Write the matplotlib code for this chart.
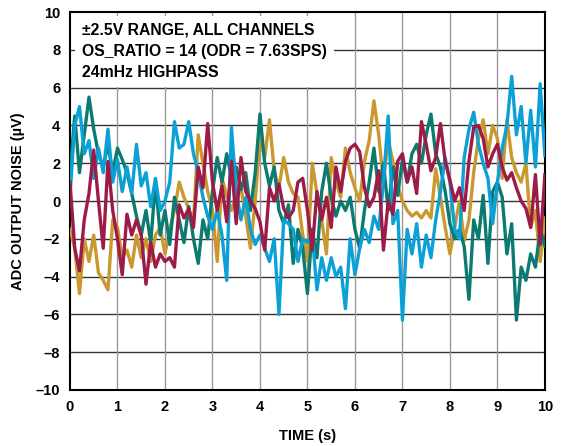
import numpy as np
import matplotlib
matplotlib.use("Agg")
import matplotlib.pyplot as plt

plt.rcParams['font.family'] = ['Liberation Sans', 'DejaVu Sans']

# sample times, 0.1 s steps
time_s = np.linspace(0, 10, 101)

# ADC output noise per channel (uV)
gold = [-1.5, -2.5, -4.9, -2.0, -3.2, -1.8, -3.8, -4.2, -4.7, -1.0,
        -1.4, -3.0, -2.6, -3.5, -1.8, -3.0, -2.0, -3.2, -1.8, -1.4,
        -2.8, -1.5, -0.5, 1.0, 0.2, -0.4, -1.1, 3.5, 2.0, 0.5,
        -0.5, -3.2, 1.2, 0.3, -0.5, 0.3, 0.7, -0.8, -2.5, 0.0,
        3.3, 2.3, 4.3, 1.6, 0.7, 2.3, 1.0, 0.4, 0.2, -1.8,
        -3.2, 2.0, 0.4, -1.0, -2.8, 2.3, 1.0, 0.2, 2.8, 1.5,
        0.7, 0.0, 2.1, 3.2, 5.3, 3.5, 1.0, 3.2, 2.1, 0.8,
        0.0, -0.5, -0.8, -0.6, -0.9, -0.5, -0.9, 1.7, 0.2, -1.4,
        -2.8, -1.4, 0.0, -2.1, -1.0, 1.5, 3.3, 4.3, 2.5, 4.0,
        3.3, 1.2, 4.3, 2.3, 1.5, 1.0, 2.0, -1.4, -0.5, -3.2,
        -0.9]
teal = [1.5, 4.5, 1.5, 3.5, 5.5, 3.8, 2.5, 1.8, 3.0, 1.5,
        2.8, 2.2, 1.5, 0.4, -0.8, -1.8, -0.5, -2.2, 1.0, -1.8,
        -0.5, -2.3, 0.2, -1.0, -2.2, -0.3, -2.0, -3.3, -1.0, -2.0,
        0.5, 2.3, 1.0, 2.5, 1.2, 1.8, 0.6, 1.5, -0.5, 1.5,
        4.6, 2.0, 0.8, 1.8, -0.5, -1.2, -0.2, -3.3, -1.5, -2.5,
        -4.9, -1.5, -3.0, 0.5, 2.0, 0.2, -0.8, 0.0, -0.5, 0.2,
        -1.5, -2.5, -0.5, 1.0, 2.8, 0.5, 2.0, -0.5, 1.8, 0.3,
        2.2, 1.0, 2.5, 3.0, 2.0, 3.5, 4.6, 2.5, 1.8, 0.5,
        -1.2, -2.0, -1.5, -2.4, -5.2, -1.0, -2.0, 0.3, -3.3, 0.5,
        1.0, 0.2, -2.8, -1.2, -6.3, -3.5, -4.2, -2.8, -3.5, -1.5,
        -2.4]
cyan = [0.3, 4.0, 5.0, 2.5, 3.2, 1.2, 2.8, 1.5, 3.8, 1.0,
        2.2, 0.5, 1.8, 0.4, 3.0, 0.8, 1.5, -0.3, 1.2, -0.5,
        0.0, 1.0, 4.2, 2.8, 3.0, 4.2, 2.5, 1.5, 0.2, -0.8,
        -1.5, -0.5, -1.8, -4.2, 3.9, 0.5, -1.0, 0.2, -1.5, -2.3,
        -1.8, -2.5, -3.2, -2.0, -6.0, -1.0, -1.2, -1.5, -3.2, -2.0,
        -2.2, -1.8, -4.7, -3.0, -4.2, -3.0, -4.0, -3.5, -5.7, -2.0,
        -3.9, -2.5, -1.5, -2.2, -0.8, -1.5, 1.0, 4.5, -1.2, -0.5,
        -6.3, -1.5, -2.8, -1.2, -3.5, -1.8, -3.0, -1.0, 0.5, 2.3,
        1.0, -1.5, -2.0, 2.3, 3.8, 4.7, 3.0, 2.0, 1.2, -1.2,
        1.0, 2.8, 4.0, 6.6, 3.5, 5.0, 2.0, 4.8, 1.8, 6.2,
        2.4]
crimson = [1.0, -2.5, -3.7, -1.0, 0.4, 2.7, 0.0, -2.5, 2.1, -0.5,
           -2.0, -3.9, -0.7, -1.8, -1.0, -1.8, -4.4, -2.2, -3.5, -2.8,
           -3.2, -3.0, -3.5, -0.2, -0.9, -0.4, -1.4, 1.8, 0.7, 4.1,
           1.0, -0.5, 0.8, -1.1, 2.1, -1.2, 2.3, 0.5, 0.0, -0.4,
           -1.1, -2.6, 0.7, 0.0, 0.9, -0.4, -0.9, -0.5, 1.0, 1.2,
           -0.5, -2.6, 0.5, -1.0, 0.2, -1.4, 1.8, 0.5, 2.1, 2.8,
           3.0, 2.6, 0.7, -0.3, 0.2, 1.6, -2.6, 0.0, -0.7, 2.1,
           2.5, 1.0, 1.8, 0.4, 4.2, 3.0, 1.6, 2.3, 4.1, 2.1,
           1.1, 0.0, 0.7, -0.5, 2.1, 3.9, 4.0, 3.3, 1.8, 2.5,
           3.0, 1.8, 1.1, 1.5, 0.7, 0.0, -0.4, -1.4, 1.4, -2.3,
           1.4]

fig = plt.figure(figsize=(5.75, 4.46), dpi=100)
ax = fig.add_axes([0.1217, 0.1256, 0.826, 0.8474])

lw = 2.4
ax.plot(time_s, gold, color='#C9982E', lw=lw, zorder=3)
ax.plot(time_s, teal, color='#0B7A70', lw=lw, zorder=3)
ax.plot(time_s, cyan, color='#0CA1D6', lw=lw, zorder=3)
ax.plot(time_s, crimson, color='#9D1B46', lw=lw, zorder=3)

ax.set_xlim(0, 10)
ax.set_ylim(-10, 10)
ax.set_xticks(range(0, 11))
ax.set_yticks(range(-10, 11, 2))
ax.set_yticklabels([str(v).replace('-', '\u2013') for v in range(-10, 11, 2)])

# grid: dark horizontals, grey verticals
for v in range(-8, 10, 2):
    ax.axhline(v, color='#333333', lw=1.0, zorder=1)
for t in range(1, 10):
    ax.axvline(t, color='#999999', lw=1.0, zorder=1)

for s in ax.spines.values():
    s.set_linewidth(1.5)
    s.set_color('black')

ax.tick_params(axis='x', length=0, pad=7, labelsize=10.5)
ax.tick_params(axis='y', length=0, pad=7, labelsize=10.5)
for lab in ax.get_xticklabels() + ax.get_yticklabels():
    lab.set_fontweight('bold')

ax.set_xlabel('TIME (s)', fontsize=10.5, fontweight='bold', labelpad=11)
ax.set_ylabel('ADC OUTPUT NOISE (\u00b5V)', fontsize=10.5, fontweight='bold', labelpad=8)

ax.text(0.025, 0.972, '\u00b12.5V RANGE, ALL CHANNELS\nOS_RATIO = 14 (ODR = 7.63SPS)\n24mHz HIGHPASS',
        transform=ax.transAxes, ha='left', va='top', fontsize=11.3, fontweight='bold',
        linespacing=1.5, zorder=5,
        bbox=dict(facecolor='white', edgecolor='none', pad=5))

fig.savefig('out.png', dpi=100)
